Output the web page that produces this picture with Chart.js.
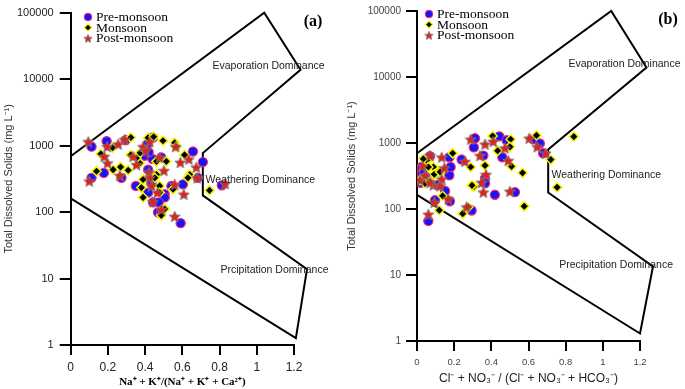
<!DOCTYPE html>
<html>
<head>
<meta charset="utf-8">
<script src="https://cdn.jsdelivr.net/npm/chart.js@4.4.1/dist/chart.umd.min.js"></script>
<style>
  html, body { margin: 0; padding: 0; background: #fff; }
  #wrap { position: relative; width: 685px; height: 389px; overflow: hidden; }
  canvas { position: absolute; top: 0; }
  #ca { left: 0; }
  #cb { left: 342px; }
</style>
</head>
<body>
<div id="wrap">
  <canvas id="ca" width="342" height="389"></canvas>
  <canvas id="cb" width="343" height="389"></canvas>
</div>
<script>
// ---------- DATA: panel (a)  x = Na+ + K+ /(Na+ + K+ + Ca2+), y = TDS (mg/L) ----------
const preMonsoonA = [[0.112,963],[0.193,1166],[0.295,1205],[0.412,1042],[0.442,1322],[0.398,700],[0.439,631],[0.487,662],[0.657,812],[0.710,564],[0.683,327],[0.112,327],[0.178,388],[0.416,434],[0.350,247],[0.416,196],[0.434,276],[0.505,185],[0.505,166],[0.442,140],[0.473,140],[0.469,99],[0.603,261],[0.541,247],[0.812,252],[0.591,68],[0.419,793],[0.273,327],[0.484,96]];
const monsoonA = [[0.323,1322],[0.225,931],[0.162,748],[0.139,411],[0.228,434],[0.268,476],[0.309,425],[0.323,723],[0.371,767],[0.416,1309],[0.446,1355],[0.496,1181],[0.559,1103],[0.568,963],[0.612,723],[0.461,578],[0.514,578],[0.371,545],[0.461,366],[0.452,327],[0.639,366],[0.630,327],[0.746,212],[0.380,233],[0.478,247],[0.478,196],[0.550,220],[0.389,166],[0.505,111],[0.487,89],[0.353,647],[0.389,309]];
const postMonsoonA = [[0.094,1143],[0.100,292],[0.196,963],[0.255,1052],[0.180,685],[0.198,545],[0.335,685],[0.353,515],[0.389,963],[0.403,841],[0.478,662],[0.564,963],[0.589,558],[0.635,625],[0.675,471],[0.501,420],[0.264,354],[0.421,397],[0.425,327],[0.434,247],[0.466,196],[0.559,261],[0.608,185],[0.442,143],[0.487,109],[0.559,86],[0.830,267],[0.680,327],[0.425,1143],[0.291,1236]];
const boundaryA = [[0,160],[1.21,1.27],[1.27,13.8],[0.71,178],[0.71,770],[1.235,13800],[1.04,100000],[0,690]];

// ---------- DATA: panel (b)  x = Cl- + NO3- /(Cl- + NO3- + HCO3-), y = TDS ----------
const preMonsoonB = [[0.312,1178],[0.306,857],[0.443,1262],[0.482,1101],[0.459,609],[0.625,1138],[0.661,982],[0.679,699],[0.174,609],[0.240,561],[0.070,631],[0.043,457],[0.025,344],[0.174,325],[0.181,433],[0.061,274],[0.366,290],[0.366,245],[0.151,188],[0.177,131],[0.097,136],[0.419,164],[0.527,180],[0.294,95],[0.061,66],[0.357,644],[0.025,433],[0.111,231],[0.035,380],[0.050,300],[0.020,250]];
const monsoonB = [[0.407,1275],[0.504,1138],[0.500,875],[0.434,764],[0.643,1306],[0.844,1248],[0.720,561],[0.192,699],[0.289,433],[0.366,457],[0.509,442],[0.568,353],[0.754,213],[0.577,110],[0.246,85],[0.120,96],[0.138,158],[0.306,219],[0.276,107],[0.088,433],[0.052,543],[0.115,365],[0.016,274],[0.034,575],[0.061,433],[0.093,336],[0.124,365],[0.043,245],[0.070,260],[0.296,228]];
const postMonsoonB = [[0.289,1138],[0.366,959],[0.410,1052],[0.604,1178],[0.647,875],[0.692,699],[0.473,837],[0.491,543],[0.339,644],[0.258,525],[0.133,609],[0.070,644],[0.030,448],[0.147,419],[0.133,284],[0.088,231],[0.371,333],[0.348,253],[0.357,180],[0.500,185],[0.093,126],[0.267,107],[0.061,83],[0.043,325],[0.016,274],[0.070,250],[0.124,224],[0.168,142]];
const boundaryB = [[0,164],[1.2,1.3],[1.27,13.5],[0.706,178],[0.706,800],[1.235,13900],[1.045,100000],[0,699]];

// ---------- TICKS / LABELS ----------
const yTicks = [1, 10, 100, 1000, 10000, 100000];
const seriesNames = ['Pre-monsoon', 'Monsoon', 'Post-monsoon'];
const regionLabelsA = [
  { text: 'Evaporation Dominance', x: 0.762, y: 15500 },
  { text: 'Weathering Dominance', x: 0.725, y: 300 },
  { text: 'Prcipitation Dominance', x: 0.805, y: 13.5 }
];
const regionLabelsB = [
  { text: 'Evaporation Dominance', x: 0.815, y: 15800 },
  { text: 'Weathering Dominance', x: 0.724, y: 330 },
  { text: 'Precipitation Dominance', x: 0.765, y: 14 }
];

// ---------- marker images ----------
function makeStar(size, fill, stroke) {
  const c = document.createElement('canvas');
  c.width = c.height = size;
  const g = c.getContext('2d');
  const cx = size / 2, cy = size / 2 + 0.6, R = size / 2 - 0.6, r = R * 0.45;
  g.beginPath();
  for (let i = 0; i < 10; i++) {
    const a = -Math.PI / 2 + i * Math.PI / 5;
    const rr = i % 2 ? r : R;
    g.lineTo(cx + rr * Math.cos(a), cy + rr * Math.sin(a));
  }
  g.closePath();
  g.fillStyle = fill; g.fill();
  g.lineWidth = 0.9; g.strokeStyle = stroke; g.stroke();
  return c;
}
const starImg = makeStar(13, '#e3201b', '#7a7a7a');
const starLegend = makeStar(10, '#e3201b', '#7a7a7a');

const styles = [
  { pointStyle: 'circle', pointRadius: 4.6, backgroundColor: '#1414ff', borderColor: '#ff2266', borderWidth: 1.2, order: 3 },
  { pointStyle: 'rectRot', pointRadius: 4.6, backgroundColor: '#000000', borderColor: '#f2f200', borderWidth: 1.5, order: 2 },
  { pointStyle: starImg, pointRadius: 6, backgroundColor: '#e3201b', borderColor: '#7a7a7a', borderWidth: 0, order: 1 }
];

const toPts = arr => arr.map(p => ({ x: p[0], y: p[1] }));

function buildPanel(canvasId, g) {
  const series = [g.pre, g.mon, g.post];
  const datasets = series.map((arr, i) => Object.assign({
    type: 'scatter', label: seriesNames[i], data: toPts(arr)
  }, styles[i]));
  datasets.push({
    type: 'scatter', label: 'boundary', data: toPts(g.boundary), showLine: true,
    borderColor: '#000', borderWidth: 2, pointRadius: 0, fill: false, clip: false,
    tension: 0, order: 10
  });

  const overlay = {
    id: 'overlay_' + canvasId,
    afterDraw(chart) {
      const ctx = chart.ctx;
      const xs = chart.scales.x, ys = chart.scales.y;
      ctx.save();
      // region labels
      ctx.fillStyle = '#222';
      ctx.font = g.regionFont;
      ctx.textBaseline = 'middle';
      ctx.textAlign = 'left';
      g.regions.forEach(r => ctx.fillText(r.text, xs.getPixelForValue(r.x), ys.getPixelForValue(r.y)));
      // panel letter
      ctx.font = 'bold 16px "Liberation Serif", "Times New Roman", serif';
      ctx.fillStyle = '#000';
      ctx.textAlign = 'center';
      ctx.fillText(g.letter, g.letterPos[0], g.letterPos[1]);
      // legend
      ctx.font = '13.5px "Liberation Serif", "Times New Roman", serif';
      ctx.textAlign = 'left';
      const lx = g.legend[0], ly = g.legend[1], step = 10.6;
      seriesNames.forEach((name, i) => {
        const y = ly + i * step;
        const mx = lx;
        if (i === 0) {
          ctx.beginPath(); ctx.arc(mx, y, 3.8, 0, Math.PI * 2);
          ctx.fillStyle = '#1414ff'; ctx.fill();
          ctx.lineWidth = 1; ctx.strokeStyle = '#ff2266'; ctx.stroke();
        } else if (i === 1) {
          ctx.beginPath(); ctx.moveTo(mx, y - 3.6); ctx.lineTo(mx + 3.6, y); ctx.lineTo(mx, y + 3.6); ctx.lineTo(mx - 3.6, y); ctx.closePath();
          ctx.fillStyle = '#000'; ctx.fill();
          ctx.lineWidth = 1.2; ctx.strokeStyle = '#f2f200'; ctx.stroke();
        } else {
          ctx.drawImage(starLegend, mx - 5, y - 5);
        }
        ctx.fillStyle = '#000';
        ctx.fillText(name, lx + 8, y + 0.5);
      });
      ctx.restore();
    }
  };

  return new Chart(document.getElementById(canvasId), {
    type: 'scatter',
    data: { datasets },
    options: {
      responsive: false,
      animation: false,
      devicePixelRatio: 1,
      layout: { padding: { top: g.top, right: g.right, left: 0, bottom: 0 } },
      plugins: { legend: { display: false }, tooltip: { enabled: false } },
      scales: {
        x: {
          type: 'linear', min: 0, max: 1.2,
          afterFit: s => { s.height = g.xHeight; },
          ticks: { stepSize: 0.2, color: g.tickColor, font: { family: 'Liberation Sans, Arial, sans-serif', size: g.xTickSize }, padding: g.xTickPad, maxRotation: 0,
                   callback: v => String(Math.round(v * 10) / 10) },
          grid: { drawOnChartArea: false, drawTicks: true, tickLength: 10, color: '#000', lineWidth: 2 },
          border: { display: true, color: '#000', width: 2 },
          title: { display: true, text: g.xTitle, color: g.xTitleColor, font: g.xTitleFont, padding: { top: 0, bottom: g.xTitlePad } }
        },
        y: {
          type: 'logarithmic', min: 1, max: 100000,
          afterFit: s => { s.width = g.yWidth; },
          afterBuildTicks: s => { s.ticks = yTicks.map(v => ({ value: v })); },
          ticks: { color: g.tickColor, font: { family: 'Liberation Sans, Arial, sans-serif', size: g.yTickSize }, padding: g.yTickPad,
                   callback: v => String(v) },
          grid: { drawOnChartArea: false, drawTicks: true, tickLength: 11, color: '#000', lineWidth: 2 },
          border: { display: true, color: '#000', width: 2 },
          title: { display: true, text: 'Total Dissolved Solids (mg L\u207B\u00B9)', color: '#333',
                   font: { family: 'Liberation Sans, Arial, sans-serif', size: 11 }, padding: { top: g.yTitlePad, bottom: 0 } }
        }
      }
    },
    plugins: [overlay]
  });
}

buildPanel('ca', {
  pre: preMonsoonA, mon: monsoonA, post: postMonsoonA, boundary: boundaryA,
  top: 7, right: 48, yWidth: 70.7, xHeight: 44,
  tickColor: '#222', xTickSize: 12, yTickSize: 11, xTickPad: 5, yTickPad: 6,
  xTitle: 'Na\u207A + K\u207A/(Na\u207A + K\u207A + Ca\u00B2\u207A)', xTitleColor: '#000',
  xTitleFont: { family: 'Liberation Serif, Times New Roman, serif', size: 11, weight: 'bold' }, xTitlePad: 0.5,
  yTitlePad: 2.4,
  regions: regionLabelsA, regionFont: '10.5px "Liberation Sans", Arial, sans-serif',
  letter: '(a)', letterPos: [313, 22], legend: [88, 17]
});

buildPanel('cb', {
  pre: preMonsoonB, mon: monsoonB, post: postMonsoonB, boundary: boundaryB,
  top: 5, right: 45, yWidth: 75, xHeight: 48,
  tickColor: '#444', xTickSize: 9.5, yTickSize: 10, xTickPad: 6, yTickPad: 5,
  xTitle: 'Cl\u207B + NO\u2083\u207B / (Cl\u207B + NO\u2083\u207B + HCO\u2083\u207B)', xTitleColor: '#222',
  xTitleFont: { family: 'Liberation Sans, Arial, sans-serif', size: 12 }, xTitlePad: 2.8,
  yTitlePad: 3.4,
  regions: regionLabelsB, regionFont: '10.5px "Liberation Sans", Arial, sans-serif',
  letter: '(b)', letterPos: [326, 20], legend: [87, 14]
});
</script>
</body>
</html>
